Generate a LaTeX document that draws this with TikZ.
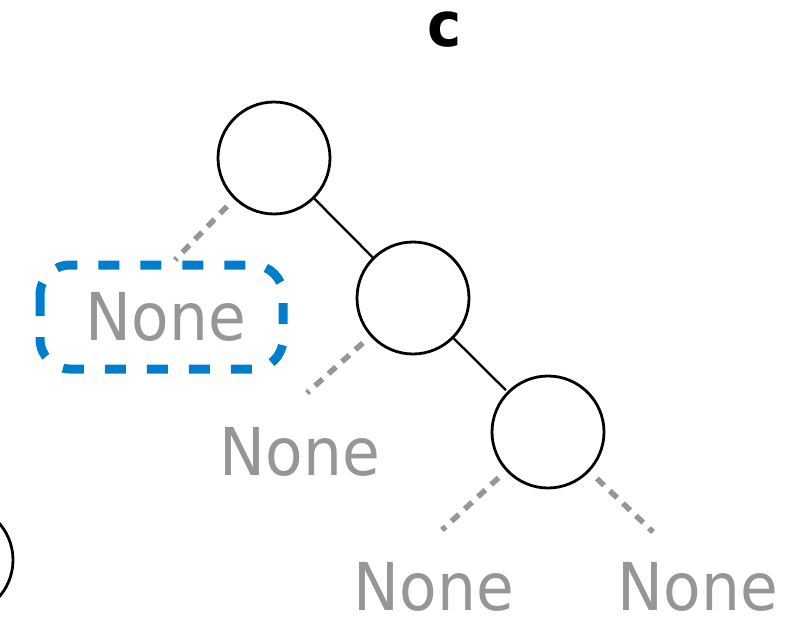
\documentclass[tikz,border=0pt]{standalone}
\usepackage{fontspec}
\setmainfont{DejaVu Sans}[FakeStretch=0.93]
\usepackage{tikz}
\usetikzlibrary{positioning, calc}

\definecolor{pickblue}{RGB}{0,125,205}
\definecolor{nilgray}{RGB}{150,150,150}

\begin{document}
\begin{tikzpicture}[
	x=1pt, y=-1pt,
	treenode/.style={circle, draw=black, line width=2.8pt, minimum size=112pt, inner sep=0pt},
	edge/.style={draw=black, line width=2.3pt},
	nil edge/.style={draw=nilgray, line width=5.5pt, dash pattern=on 10pt off 8pt, shorten <=10pt},
	nil/.style={text=nilgray, font=\fontsize{66}{66}\selectfont, inner sep=0pt},
	pick/.style={draw=pickblue, line width=9pt, rounded corners=30pt, dash pattern=on 21pt off 21pt}
	]
	
	\useasboundingbox (0,0) rectangle (805,616);
	\clip (0,0) rectangle (805,616);
	
	% --- TITLE ---
	\node[font=\bfseries\fontsize{62}{62}\selectfont, inner sep=0pt] (title) at (445,30) {c};
	
	% --- TREE NODES ---
	\node[treenode] (root) at (274,158) {};
	\node[treenode] (mid) at (413,298) {};
	\node[treenode] (leaf) at (548,432) {};
	\node[treenode] (prev) at (-43,560) {}; % neighbour, cut off at the edge
	
	% Solid child links
	\draw[edge] (root) -- (mid);
	\draw[edge, shorten >=2pt] (mid) -- (leaf);
	
	% --- EMPTY CHILDREN ---
	\node[nil, anchor=base] (nil a) at (166,340) {None};
	\node[nil, anchor=base] (nil b) at (300,475) {None};
	\node[nil, anchor=base] (nil c) at (434,610) {None};
	\node[nil, anchor=base] (nil d) at (698,610) {None};
	
	% Dotted stubs towards the empty children
	\coordinate (stub a) at (175,260);
	\coordinate (stub b) at (307,393);
	\coordinate (stub c) at (442,530);
	\coordinate (stub d) at (653,532);
	\draw[nil edge] (root) -- (stub a);
	\draw[nil edge] (mid) -- (stub b);
	\draw[nil edge] (leaf) -- (stub c);
	\draw[nil edge] (leaf) -- (stub d);
	
	% Highlight round the first empty child
	\draw[pick] (40,265) rectangle (283,369);
	
\end{tikzpicture}
\end{document}
